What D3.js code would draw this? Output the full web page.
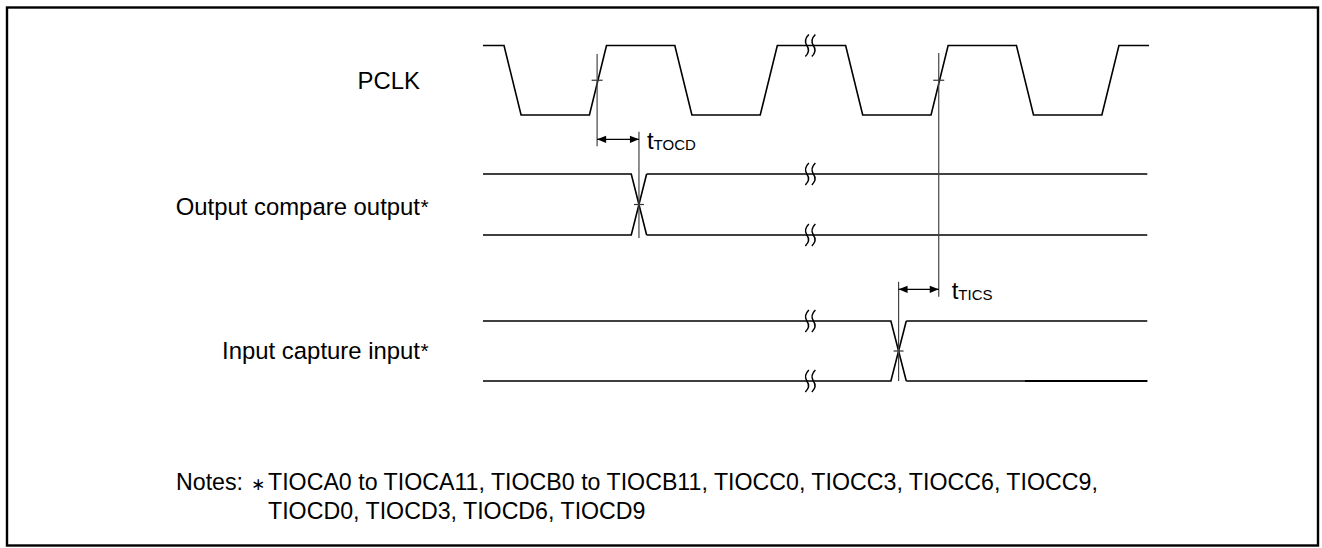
<!DOCTYPE html>
<html>
<head>
<meta charset="utf-8">
<script src="https://cdn.jsdelivr.net/npm/d3@7"></script>
<style>
  html, body { margin: 0; padding: 0; background: #fff; }
  svg { display: block; }
</style>
</head>
<body>
<svg id="chart"></svg>
<script>
// Row labels
const signalNames = ['PCLK', 'Output compare output', 'Input capture input'];

// PCLK waveform, time in clock cycles (1 = high, 0 = low)
const pclkTimes  = [-0.123, 0, 0.1, 0.5, 0.6, 1.0, 1.1, 1.5, 1.6, 2.0, 2.1, 2.5, 2.6, 3.0, 3.1, 3.5, 3.6, 3.776];
const pclkLevels = [1, 1, 0, 0, 1, 1, 0, 0, 1, 1, 0, 0, 1, 1, 0, 0, 1, 1];

// Data transitions of the two pin signals (start, end)
const outputTransition = [0.745, 0.835];
const inputTransition  = [2.265, 2.355];

// PCLK rising edges used as reference points
const refEdges = [0.545, 2.545];

// Timing parameters: subscript name and span (from, to)
const timingNames = ['TOCD', 'TICS'];
const timingSpans = [[0.545, 0.79], [2.31, 2.545]];

// Time break ("((" mark) position
const breakTime = 1.77;

// Notes
const noteHead = 'Notes:';
const noteLines = [
  'TIOCA0 to TIOCA11, TIOCB0 to TIOCB11, TIOCC0, TIOCC3, TIOCC6, TIOCC9,',
  'TIOCD0, TIOCD3, TIOCD6, TIOCD9'
];

const width = 1322, height = 548;
const font = "'Liberation Sans', Arial, Helvetica, sans-serif";
const labelSize = 23.9;

const svg = d3.select('#chart').attr('width', width).attr('height', height);

// frame
svg.append('rect')
  .attr('x', 7).attr('y', 7.5)
  .attr('width', 1311).attr('height', 538)
  .attr('fill', 'none').attr('stroke', '#000').attr('stroke-width', 2.4);

// time scale (clock cycles -> px)
const x = d3.scaleLinear().domain([-0.123, 3.776]).range([483, 1149]);
const tStart = x.domain()[0], tEnd = x.domain()[1];

// one vertical scale per lane (level 0 = low, 1 = high)
const laneRanges = [[115, 45.5], [235, 174], [381, 321]];
const lanes = laneRanges.map(r => d3.scaleLinear().domain([0, 1]).range(r));
const mid = y => y(0.5);

const g = svg.append('g')
  .attr('fill', 'none')
  .attr('stroke', '#000')
  .attr('stroke-width', 1.6)
  .attr('stroke-linejoin', 'miter');

// PCLK
const pclk = pclkTimes.map((t, i) => ({ t, v: pclkLevels[i] }));
g.append('path')
  .attr('d', d3.line().x(d => x(d.t)).y(d => lanes[0](d.v))(pclk));

// pin signals drawn as a pair of lines crossing at the transition
function busSignal(y, tr) {
  const [a, b] = tr;
  const upper = [{ t: tStart, v: 1 }, { t: a, v: 1 }, { t: b, v: 0 }];
  const lower = [{ t: tStart, v: 0 }, { t: a, v: 0 }, { t: b, v: 1 }];
  const rest = [[{ t: b, v: 1 }, { t: tEnd - 0.01, v: 1 }], [{ t: b, v: 0 }, { t: tEnd - 0.01, v: 0 }]];
  const line = d3.line().x(d => x(d.t)).y(d => y(d.v));
  [upper, lower, ...rest].forEach(seg => g.append('path').attr('d', line(seg)));
}
busSignal(lanes[1], outputTransition);
busSignal(lanes[2], inputTransition);

// the low input line is drawn twice near its end in the original
g.append('line')
  .attr('x1', x(3.05)).attr('x2', x(tEnd - 0.01))
  .attr('y1', lanes[2](0)).attr('y2', lanes[2](0))
  .attr('stroke-width', 2.2);

// break marks on every line
function squiggle(cx, cy) {
  const p = d3.path();
  p.moveTo(cx + 2.5, cy - 11);
  p.quadraticCurveTo(cx - 3, cy - 5.5, cx + 0.5, cy);
  p.quadraticCurveTo(cx + 4.5, cy + 5.5, cx - 1, cy + 11);
  return p.toString();
}
const breakYs = [lanes[0](1), lanes[1](1), lanes[1](0), lanes[2](1), lanes[2](0)];
const bx = x(breakTime);
breakYs.forEach(by => {
  [bx, bx + 6.5].forEach(sx => {
    g.append('path').attr('d', squiggle(sx, by)).attr('stroke-width', 1.5);
  });
});

// crossing ticks
const tick = (cx, cy, w) => g.append('line')
  .attr('x1', cx - w / 2).attr('x2', cx + w / 2)
  .attr('y1', cy).attr('y2', cy)
  .attr('stroke-width', 1.2).attr('stroke', '#333');
refEdges.forEach(t => tick(x(t), mid(lanes[0]), 11));
tick(x(timingSpans[0][1]), mid(lanes[1]), 10);
tick(x(timingSpans[1][0]), mid(lanes[2]), 10);

// timing annotations
const arrowY = [139.3, 289.3];
const vline = (t, y1, y2) => g.append('line')
  .attr('x1', x(t)).attr('x2', x(t))
  .attr('y1', y1).attr('y2', y2)
  .attr('stroke', '#444').attr('stroke-width', 1.2);

// reference edge verticals
vline(refEdges[0], 54, arrowY[0] + 7);
vline(refEdges[1], 53, arrowY[1] + 7.5);
// signal transition verticals
vline(timingSpans[0][1], arrowY[0] - 7.5, lanes[1](0) + 3);
vline(timingSpans[1][0], arrowY[1] - 7.5, lanes[2](0));

function arrowHead(px, py, dir) {
  const len = 9, hw = 3.6;
  svg.append('path')
    .attr('d', `M${px},${py}L${px - dir * len},${py - hw}L${px - dir * len},${py + hw}Z`)
    .attr('fill', '#000');
}

const labelGap = [8, 13];
timingSpans.forEach((span, i) => {
  const x1 = x(span[0]), x2 = x(span[1]), y = arrowY[i];
  g.append('line').attr('x1', x1).attr('x2', x2).attr('y1', y).attr('y2', y)
    .attr('stroke-width', 1.3);
  arrowHead(x1, y, -1);
  arrowHead(x2, y, 1);
  const txt = svg.append('text')
    .attr('x', x2 + labelGap[i]).attr('y', y + 9.5)
    .attr('font-family', font).attr('font-size', labelSize).attr('fill', '#000');
  txt.append('tspan').text('t');
  txt.append('tspan').attr('font-size', 15).attr('dy', 0.8).text(timingNames[i]);
});

// row labels, right aligned, with asterisk for the pin signals
const labelRight = 420;
signalNames.forEach((name, i) => {
  const y = mid(lanes[i]) + 8.3 + (i === 1 ? 2 : 0);
  svg.append('text')
    .attr('x', labelRight).attr('y', y)
    .attr('text-anchor', 'end')
    .attr('font-family', font).attr('font-size', labelSize).attr('fill', '#000')
    .text(name);
  if (i > 0) {
    svg.append('text')
      .attr('x', labelRight + 0.5).attr('y', y - 1)
      .attr('font-family', font).attr('font-size', 21).attr('fill', '#000')
      .text('*');
  }
});

// notes
const notes = svg.append('g')
  .attr('font-family', font).attr('font-size', 23.2).attr('fill', '#000');
notes.append('text').attr('x', 176).attr('y', 490).text(noteHead);
notes.append('text').attr('x', 251).attr('y', 490)
  .attr('font-family', "'DejaVu Sans', sans-serif").attr('font-size', 17).text('\u2217');
noteLines.forEach((line, i) => {
  notes.append('text').attr('x', 268).attr('y', 490 + i * 29).text(line);
});
</script>
</body>
</html>
